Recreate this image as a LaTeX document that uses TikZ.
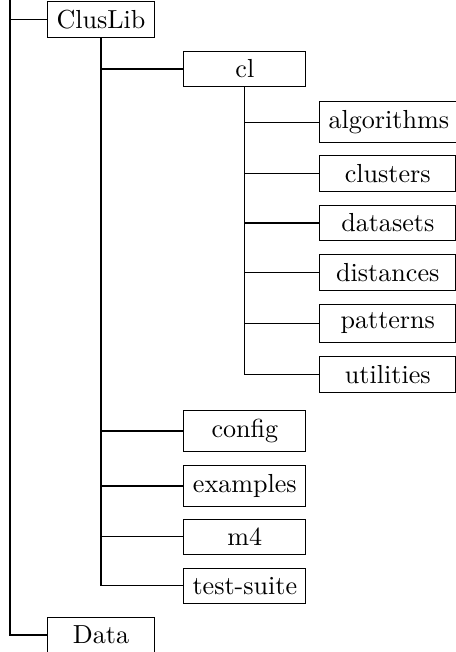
\documentclass[tikz,border=0pt]{standalone}
\begin{document}
\begin{tikzpicture}[x=0.3833pt,y=-0.3833pt,
  dirbox/.style={draw,anchor=west,inner sep=3.33pt},
  lvlone/.style={dirbox,minimum width=41pt},
  lvltwo/.style={dirbox,minimum width=46.8pt},
  lvlthree/.style={dirbox,minimum width=52.1pt}]
\useasboundingbox (0,0) rectangle (456,652);

% top level
\coordinate (top) at (10,0);
\node[lvlone] (cluslib) at (47,19.5) {ClusLib};
\node[lvlone] (data) at (47,635) {Data};

% ClusLib subdirectories
\node[lvltwo] (cl) at (183.3,69) {cl};
\node[lvltwo] (config) at (183.3,431) {config};
\node[lvltwo] (examples) at (183.3,486) {examples};
\node[lvltwo] (m4) at (183.3,536.7) {m4};
\node[lvltwo] (testsuite) at (183.3,585.7) {test-suite};

% cl subdirectories
\node[lvlthree] (algorithms) at (319.3,122.3) {algorithms};
\node[lvlthree] (clusters) at (319.3,173.3) {clusters};
\node[lvlthree] (datasets) at (319.3,223) {datasets};
\node[lvlthree] (distances) at (319.3,272.3) {distances};
\node[lvlthree] (patterns) at (319.3,323.3) {patterns};
\node[lvlthree] (utilities) at (319.3,374.3) {utilities};

% connectors
\draw (top) |- (cluslib.west);
\draw (top) |- (data.west);
\foreach \c in {cl,config,examples,m4,testsuite}
  \draw (cluslib.south) |- (\c.west);
\foreach \c in {algorithms,clusters,datasets,distances,patterns,utilities}
  \draw (cl.south) |- (\c.west);
\end{tikzpicture}
\end{document}
